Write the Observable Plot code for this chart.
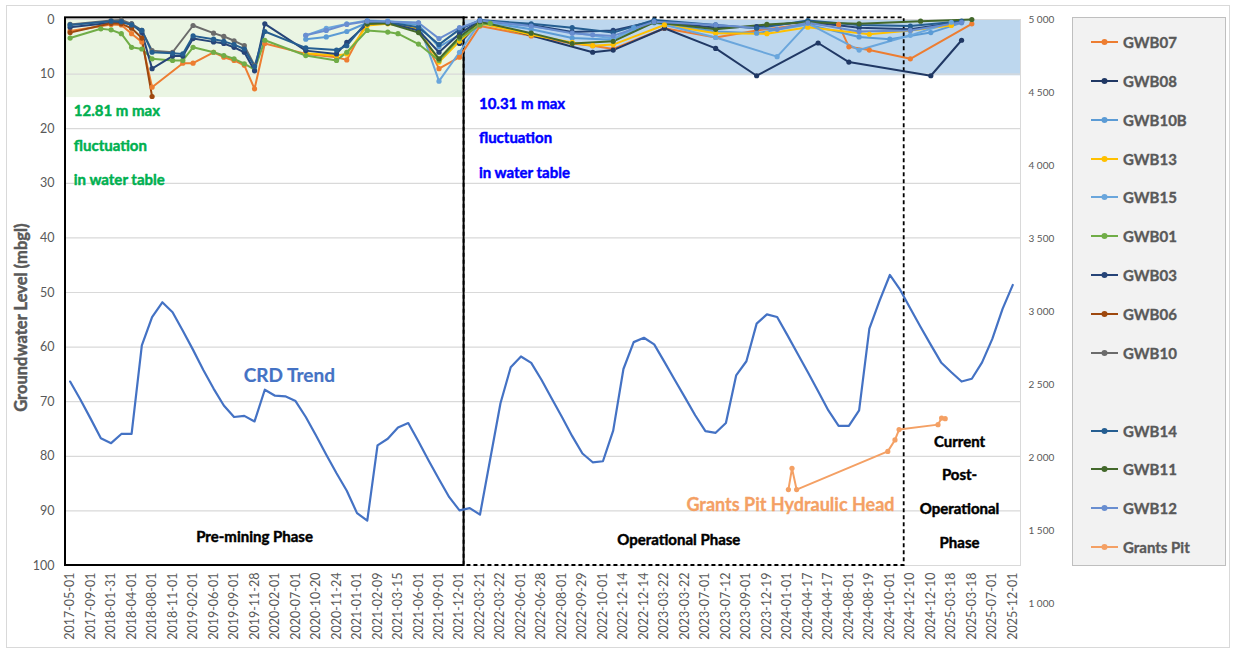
<!DOCTYPE html>
<html>
<head>
<meta charset="utf-8">
<script src="https://cdn.jsdelivr.net/npm/d3@7"></script>
<script src="https://cdn.jsdelivr.net/npm/@observablehq/plot@0.6"></script>
<style>
  body { margin: 0; background: #fff; font-family: Lato, "Open Sans", sans-serif; }
  #chart { position: relative; width: 1236px; height: 653px; overflow: hidden; }
  #border { position: absolute; left: 6px; top: 5px; width: 1224px; height: 643px; border: 1px solid #d9d9d9; box-sizing: border-box; }
  #plot { position: absolute; left: 0; top: 0; }
  #legend { position: absolute; left: 1072px; top: 17px; width: 154px; height: 549px; background: #f2f2f2; border: 1px solid #bfbfbf; box-sizing: border-box; }
  .item { position: absolute; left: 17px; height: 20px; display: flex; align-items: center; gap: 4px; font-weight: 700; font-size: 15px; color: #595959; -webkit-text-stroke: 0.35px #595959; }
</style>
</head>
<body>
<div id="chart">
  <div id="border"></div>
  <div id="plot"></div>
  <div id="legend"></div>
</div>
<script>
// Category labels on the x axis (every second survey step is labelled)
const stepLabels = [
  "2017-05-01","2017-09-01","2018-01-31","2018-04-01","2018-08-01","2018-11-01","2019-02-01","2019-06-01",
  "2019-09-01","2019-11-28","2020-02-01","2020-07-01","2020-10-20","2020-11-24","2021-01-01","2021-02-09",
  "2021-03-15","2021-06-01","2021-09-01","2021-12-01","2022-03-21","2022-03-22","2022-06-01","2022-06-28",
  "2022-08-01","2022-09-29","2022-10-01","2022-12-14","2022-12-14","2023-03-22","2023-03-22","2023-07-01",
  "2023-07-12","2023-09-01","2023-12-19","2024-01-01","2024-04-17","2024-04-17","2024-08-01","2024-08-19",
  "2024-10-01","2024-12-10","2024-12-10","2025-03-18","2025-03-18","2025-07-01","2025-12-01"
];

// Cumulative rainfall departure (secondary axis), one value per survey step
const crdTrend = [
  2520,2397,2266,2131,2098,2161,2161,2767,2962,3063,2995,2868,2737,2599,2472,2356,2277,2285,2247,2464,
  2423,2419,2386,2277,2150,2019,1892,1772,1619,1567,2083,2128,2206,2236,2109,1978,1851,1728,1638,1653,
  1608,1989,2371,2618,2692,2648,2532,2404,2277,2146,2027,1967,1974,2184,2606,2790,2820,2775,2655,2532,
  2412,2289,2180,2169,2236,2562,2659,2917,2980,2962,2838,2711,2584,2453,2322,2217,2217,2322,2883,3074,
  3250,3149,3021,2894,2771,2651,2584,2520,2539,2651,2812,3018,3182
];

// Groundwater level per borehole: [survey step, depth in mbgl]
const gwb07 = [[0,2.1],[4,0.9],[5,1.0],[6,2.6],[7,4.1],[8,12.4],[11,8.0],[12,8.0],[14,6.0],[15,6.9],[16,7.5],[17,8.4],[18,12.7],[19,4.4],[23,6.3],[26,6.9],[27,7.4],[29,0.4],[31,0.7],[34,1.7],[36,9.0],[38,6.9],[40,1.2],[45,3.0],[49,4.4],[51,4.8],[53,5.4],[58,1.6],[63,3.3],[67,2.0],[72,0.8],[75,0.9],[76,5.0],[78,5.6],[82,7.2],[88,0.8]];
const gwb08 = [[38,4.4],[40,0.4],[51,6.0],[53,5.6],[58,1.6],[63,5.3],[67,10.3],[73,4.3],[76,7.8],[84,10.3],[87,3.8]];
const gwb10b = [[23,3.6],[25,3.2],[27,2.2],[29,0.6],[31,0.3],[34,1.0],[36,5.0],[38,2.8],[40,0.3],[45,1.8],[49,3.4],[53,3.7],[55,1.5],[57,0.6],[63,2.2],[67,2.5],[72,0.9],[77,3.2],[80,3.6],[84,2.4],[87,0.6]];
const gwb13 = [[23,6.2],[26,6.6],[27,6.3],[29,1.1],[31,0.8],[34,1.7],[36,7.8],[38,4.0],[40,0.7],[45,2.8],[49,4.2],[51,4.8],[53,4.6],[58,1.0],[63,2.5],[68,2.6],[72,1.4],[78,2.7],[82,2.0],[86,1.1]];
const gwb15 = [[23,2.9],[25,1.6],[27,0.8],[29,0.2],[31,0.3],[34,0.6],[36,11.3],[38,6.0],[40,0.5],[45,1.2],[49,2.4],[53,3.5],[57,0.5],[63,3.3],[69,6.8],[72,0.7],[77,5.6],[82,2.9],[86,0.5]];
const gwb01 = [[0,3.4],[3,1.7],[4,1.9],[5,2.6],[6,5.1],[7,5.4],[8,7.2],[10,7.5],[11,7.5],[12,5.1],[14,6.0],[15,6.6],[16,7.2],[17,8.1],[18,9.2],[19,3.8],[23,6.6],[26,7.5],[27,6.0],[29,2.0],[31,2.3],[32,2.6],[34,4.5],[36,7.5],[38,3.5],[40,1.0],[41,0.7]];
const gwb03 = [[0,1.4],[4,0.6],[5,0.6],[6,0.8],[7,2.4],[8,9.0],[10,6.7],[11,6.7],[12,3.5],[14,4.1],[15,4.4],[16,5.1],[17,6.0],[18,9.4],[19,0.8],[23,5.7],[26,6.3],[27,4.2],[29,0.8],[31,0.6],[34,2.0],[36,6.0],[38,2.6],[40,0.2],[45,1.0],[49,2.3],[53,2.0],[57,0.3],[63,1.5],[67,1.3],[72,0.4],[77,1.5],[82,1.8],[87,0.4]];
const gwb06 = [[0,2.4],[4,0.7],[5,0.8],[6,1.6],[7,3.4],[8,14.1]];
const gwb10 = [[0,0.9],[4,0.2],[5,0.1],[6,0.8],[7,2.0],[8,5.7],[10,6.0],[12,1.1],[14,2.5],[15,3.1],[16,3.9],[17,4.8],[18,8.4]];
const gwb14 = [[0,1.0],[4,0.3],[5,0.4],[6,1.0],[7,2.0],[8,6.0],[10,6.2],[11,6.3],[12,3.0],[14,3.6],[15,4.0],[16,4.6],[17,5.4],[18,8.6],[19,2.2],[23,5.2],[26,5.6],[27,4.8],[29,0.3],[31,0.5],[34,1.4],[36,4.6],[38,1.8],[40,0.1],[45,0.8],[49,1.5],[53,2.4],[57,0.1],[63,1.0],[67,1.6],[72,0.2],[77,1.0],[82,1.2],[87,0.3]];
const gwb11 = [[29,0.8],[31,0.7],[34,2.4],[36,7.2],[38,3.2],[40,0.4],[45,2.5],[49,4.4],[53,4.0],[57,0.5],[63,1.8],[68,0.9],[72,0.5],[77,0.8],[83,0.3],[88,0.0]];
const gwb12 = [[23,2.9],[25,2.0],[27,0.9],[29,0.3],[31,0.4],[34,0.6],[36,3.5],[38,1.5],[40,0.2],[45,1.2],[49,2.5],[51,2.8],[53,3.0],[57,0.4],[63,1.0],[69,1.8],[72,0.6],[77,2.2],[82,2.0],[87,0.5]];
const grantsPit = [[70.1,86.1],[70.45,82.2],[70.9,86.1],[79.8,79.1],[80.5,77.0],[80.9,75.1],[84.7,74.2],[85.05,73.0],[85.4,73.1]];

const wells = ["GWB07","GWB08","GWB10B","GWB13","GWB15","GWB01","GWB03","GWB06","GWB10","GWB14","GWB11","GWB12","Grants Pit"];
const wellColors = ["#ED7D31","#203864","#5B9BD5","#FFC000","#6AA6DC","#70AD47","#264478","#9E480E","#6B6B6B","#255E91","#43682B","#698ED0","#F4A064"];
const wellSeries = [gwb07, gwb08, gwb10b, gwb13, gwb15, gwb01, gwb03, gwb06, gwb10, gwb14, gwb11, gwb12, grantsPit];

// Long table for the library
const levels = wellSeries.flatMap((s, i) => s.map(([step, depth]) => ({well: wells[i], step, depth})));

// Secondary axis (CRD) expressed in primary-axis depth units: 5 000 at 0 m, 1 000 at ~107 m
const crdTop = 5000, crdPerMetre = 37.4;
const crdToDepth = v => (crdTop - v) / crdPerMetre;
const depthToCrd = d => crdTop - d * crdPerMetre;
const crdTicks = d3.range(1000, 5001, 500);
const fmtCrd = v => d3.format(",")(Math.round(v / 10) * 10).replace(",", " ");

// Phase limits on the survey-step axis
const X0 = -0.45, X1 = 92.75, PRE_END = 38.45, OPS_END = 81.4;

// bold annotation text, slightly heavier than the plain bold face
const bold = (fill, size) => ({fontFamily: "Lato, sans-serif", fontWeight: 700, fontSize: size, fill, stroke: fill, strokeWidth: 0.45});

const plot = Plot.plot({
  width: 1065,
  height: 653,
  marginTop: 19,
  marginBottom: 88,
  marginLeft: 65,
  marginRight: 45,
  style: {fontFamily: "Lato, sans-serif", background: "transparent", overflow: "visible"},
  x: {type: "linear", domain: [X0, X1], axis: null},
  y: {domain: [0, 100], reverse: true, axis: null},
  color: {domain: wells, range: wellColors},
  marks: [
    // fluctuation bands
    Plot.rect([0], {x1: X0, x2: PRE_END, y1: 0, y2: 14.3, fill: "#EAF5E3"}),
    Plot.rect([0], {x1: PRE_END, x2: X1, y1: 0, y2: 10.31, fill: "#BDD7EE"}),
    Plot.gridY(d3.range(10, 101, 10), {stroke: "#d9d9d9", strokeOpacity: 1, strokeWidth: 1.2}),
    Plot.frame({stroke: "#d9d9d9"}),

    // axes
    Plot.axisY({ticks: d3.range(0, 101, 10), anchor: "left", tickSize: 0, tickPadding: 11, fontSize: 12.5, color: "#595959", label: null}),
    Plot.axisY({ticks: crdTicks.map(crdToDepth), anchor: "right", tickSize: 0, tickPadding: 8, fontSize: 10, color: "#595959", tickFormat: d => fmtCrd(depthToCrd(d)), label: null}),
    Plot.axisX({ticks: d3.range(0, 93, 2), anchor: "bottom", tickSize: 0, tickPadding: 7, tickRotate: -90, fontSize: 12.5, color: "#595959", tickFormat: d => stepLabels[d / 2], label: null}),
    Plot.text(["Groundwater Level (mbgl)"], {x: X0, y: 54.6, dx: -44, rotate: -90, ...bold("#595959", 16.5)}),

    // phase boxes
    Plot.rect([0], {x1: X0, x2: PRE_END, y1: -0.3, y2: 100, fill: "none", stroke: "#000", strokeWidth: 2}),
    Plot.rect([0], {x1: PRE_END, x2: OPS_END, y1: -0.3, y2: 100, fill: "none", stroke: "#000", strokeWidth: 1.8, strokeDasharray: "4,3"}),

    // CRD trend
    Plot.line(crdTrend, {x: (d, i) => i, y: d => crdToDepth(d), stroke: "#4472C4", strokeWidth: 2.2}),

    // borehole levels
    Plot.line(levels, {x: "step", y: "depth", z: "well", stroke: "well", strokeWidth: 2}),
    Plot.dot(levels, {x: "step", y: "depth", fill: "well", r: 2.6}),

    // annotations
    Plot.text(["12.81 m max\nfluctuation\nin water table"], {x: 0.36, y: 22.0, textAnchor: "start", lineHeight: 2.3, ...bold("#00B050", 15)}),
    Plot.text(["10.31 m max\nfluctuation\nin water table"], {x: 39.9, y: 20.6, textAnchor: "start", lineHeight: 2.3, ...bold("#0000FF", 15)}),
    Plot.text(["CRD Trend"], {x: 21.4, y: 65.2, ...bold("#4472C4", 19), strokeWidth: 0.2}),
    Plot.text(["Grants Pit Hydraulic Head"], {x: 70.3, y: 89.0, ...bold("#F4A064", 18), strokeWidth: 0.3}),
    Plot.text(["Pre-mining Phase"], {x: 18.0, y: 94.9, ...bold("#000", 15)}),
    Plot.text(["Operational Phase"], {x: 59.4, y: 95.4, ...bold("#000", 15)}),
    Plot.text(["Current\nPost-\nOperational\nPhase"], {x: 86.8, y: 85.5, lineHeight: 2.25, ...bold("#000", 15)})
  ]
});
document.getElementById("plot").appendChild(plot);

// Legend (one blank slot after GWB10)
const legend = document.getElementById("legend");
wells.forEach((w, i) => {
  const slot = i < 9 ? i : i + 1;
  const item = document.createElement("div");
  item.className = "item";
  item.style.top = (14 + slot * 38.85) + "px";
  item.innerHTML = `<svg width="29" height="10"><line x1="1" y1="5" x2="28" y2="5" stroke="${wellColors[i]}" stroke-width="2"/><circle cx="14.5" cy="5" r="3" fill="${wellColors[i]}"/></svg><span>${w}</span>`;
  legend.appendChild(item);
});
</script>
</body>
</html>
